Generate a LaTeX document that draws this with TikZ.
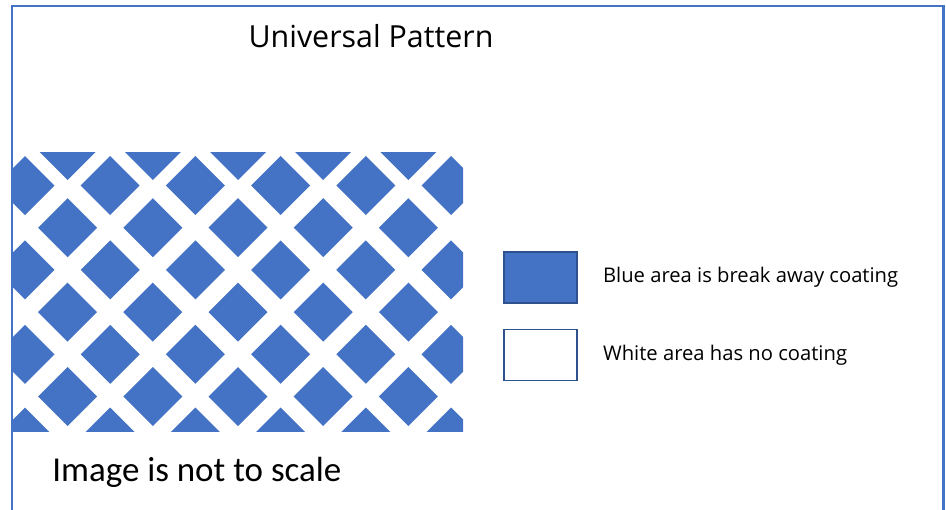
\documentclass[tikz,border=0pt]{standalone}
\usepackage{fontspec}
\setmainfont{Carlito}
\newfontfamily\uisans{Open Sans}
\usetikzlibrary{positioning}
\definecolor{patblue}{HTML}{4472C4}
\definecolor{edgeblue}{HTML}{2F528F}

\begin{document}
\begin{tikzpicture}[
  x=0.02cm, y=-0.02cm,
  node distance=0.5cm,
  frame/.style={draw=patblue, line width=1.2pt},
  tile/.style={fill=patblue},
  keybox/.style={draw=edgeblue, line width=0.85pt, minimum width=1.46cm,
                 minimum height=1.02cm, inner sep=0pt},
  keytext/.style={inner sep=0pt, font=\uisans\fontsize{11.5}{14}\selectfont}
]
\useasboundingbox (0,0) rectangle (946,510);
\draw[frame] (12,515) -- (12,6) -- (943.5,6) -- (943.5,515);

% diamond pattern, clipped to its panel
\begin{scope}
  \clip (12,152) rectangle (463,431);
  \foreach \k in {0,2,...,10} {
    \pgfmathsetmacro{\cx}{25+42.6*\k}
    \foreach \cy in {185.5,269.9,354.3,437}
      \fill[tile] (\cx-29.5,\cy) -- (\cx,\cy-29.5) -- (\cx+29.5,\cy) -- (\cx,\cy+29.5) -- cycle;
  }
  \foreach \k in {1,3,...,9} {
    \pgfmathsetmacro{\cx}{25+42.6*\k}
    \fill[tile] (\cx-30,150) -- (\cx,120) -- (\cx+30,150) -- (\cx,180) -- cycle;
    \foreach \cy in {227.7,312.1,396.5}
      \fill[tile] (\cx-29.5,\cy) -- (\cx,\cy-29.5) -- (\cx+29.5,\cy) -- (\cx,\cy+29.5) -- cycle;
  }
\end{scope}

\node[font=\uisans\fontsize{17.3}{20}\selectfont, anchor=base] (title) at (371,48) {Universal Pattern};
\node[font=\fontsize{19.9}{24}\selectfont, anchor=base west, inner sep=0pt] (note) at (52,481) {Image is not to scale};

% legend
\node[keybox, fill=patblue] (bluekey) at (540.5,277.5) {};
\node[keybox, fill=white, below=of bluekey] (whitekey) {};
\node[keytext, right=0.5cm of bluekey] (bluetxt) {Blue area is break away coating};
\node[keytext, right=0.5cm of whitekey] (whitetxt) {White area has no coating};
\end{tikzpicture}
\end{document}
